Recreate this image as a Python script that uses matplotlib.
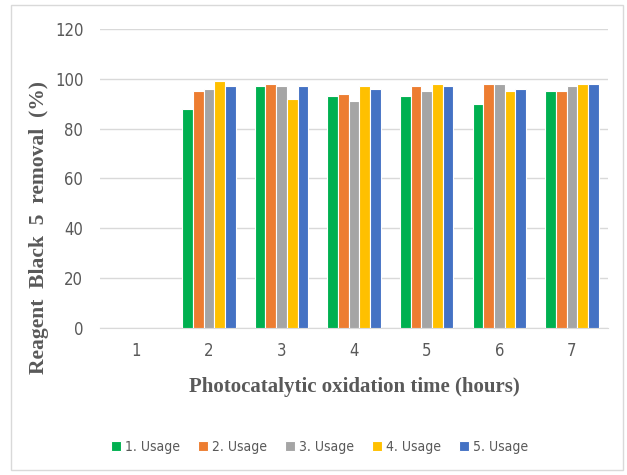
import matplotlib
matplotlib.use("Agg")
import matplotlib.pyplot as plt
import matplotlib.patches as mpatches
from matplotlib import font_manager
import numpy as np

# data
hours = ["1", "2", "3", "4", "5", "6", "7"]
series_names = ["1. Usage", "2. Usage", "3. Usage", "4. Usage", "5. Usage"]
usage1 = [0, 88, 97, 93, 93, 90, 95]
usage2 = [0, 95, 98, 94, 97, 98, 95]
usage3 = [0, 96, 97, 91, 95, 98, 97]
usage4 = [0, 99, 92, 97, 98, 95, 98]
usage5 = [0, 97, 97, 96, 97, 96, 98]
yticks = [0, 20, 40, 60, 80, 100, 120]

colors = ["#00B050", "#ED7D31", "#A5A5A5", "#FFC000", "#4472C4"]
label_font = ["Liberation Serif", "DejaVu Serif"]
text_color = "#595959"
grid_color = "#D9D9D9"

# narrow sans for ticks / legend (Calibri-like)
tick_prop = font_manager.FontProperties(family="DejaVu Sans", stretch="condensed", size=12)
leg_prop = font_manager.FontProperties(family="DejaVu Sans", stretch="condensed", size=10)

fig = plt.figure(figsize=(6.27, 4.75), dpi=100)
ax = fig.add_axes([0.1595, 0.3095, 0.8105, 0.6295])

# outer chart frame
fig.patches.append(mpatches.Rectangle((0.017, 0.01), 0.977, 0.979, transform=fig.transFigure,
                                      fill=False, edgecolor=grid_color, linewidth=1))

x = np.arange(len(hours))
width = 0.147
all_series = [usage1, usage2, usage3, usage4, usage5]
for i, vals in enumerate(all_series):
    ax.bar(x + (i - 2) * width, vals, width, color=colors[i], edgecolor="white",
           linewidth=0.8, label=series_names[i], zorder=3)

ax.set_xlim(-0.5, len(hours) - 0.5)
ax.set_ylim(0, 120)
ax.set_yticks(yticks)
ax.set_xticks(x)
ax.set_xticklabels(hours)
ax.yaxis.grid(True, color=grid_color, linewidth=1, zorder=0)
ax.set_axisbelow(True)
for s in ["top", "right", "left"]:
    ax.spines[s].set_visible(False)
ax.spines["bottom"].set_color(grid_color)
ax.tick_params(axis="both", length=0, colors=text_color)
ax.tick_params(axis="y", pad=12)
ax.tick_params(axis="x", pad=10)
for lab in ax.get_xticklabels() + ax.get_yticklabels():
    lab.set_fontproperties(tick_prop)

ax.set_xlabel("Photocatalytic oxidation time (hours)", family=label_font, fontweight="bold",
              fontsize=15, color=text_color, labelpad=12)
ax.set_ylabel("Reagent  Black  5  removal  (%)", family=label_font, fontweight="bold",
              fontsize=15.5, color=text_color)
ax.yaxis.set_label_coords(-0.1, 0.335)

leg = fig.legend(loc="center", bbox_to_anchor=(0.51, 0.059), ncol=5, frameon=False,
                 handlelength=0.7, handleheight=0.7, handletextpad=0.3, columnspacing=1.3,
                 prop=leg_prop)
for t in leg.get_texts():
    t.set_color(text_color)

fig.savefig("out.png", dpi=100)
